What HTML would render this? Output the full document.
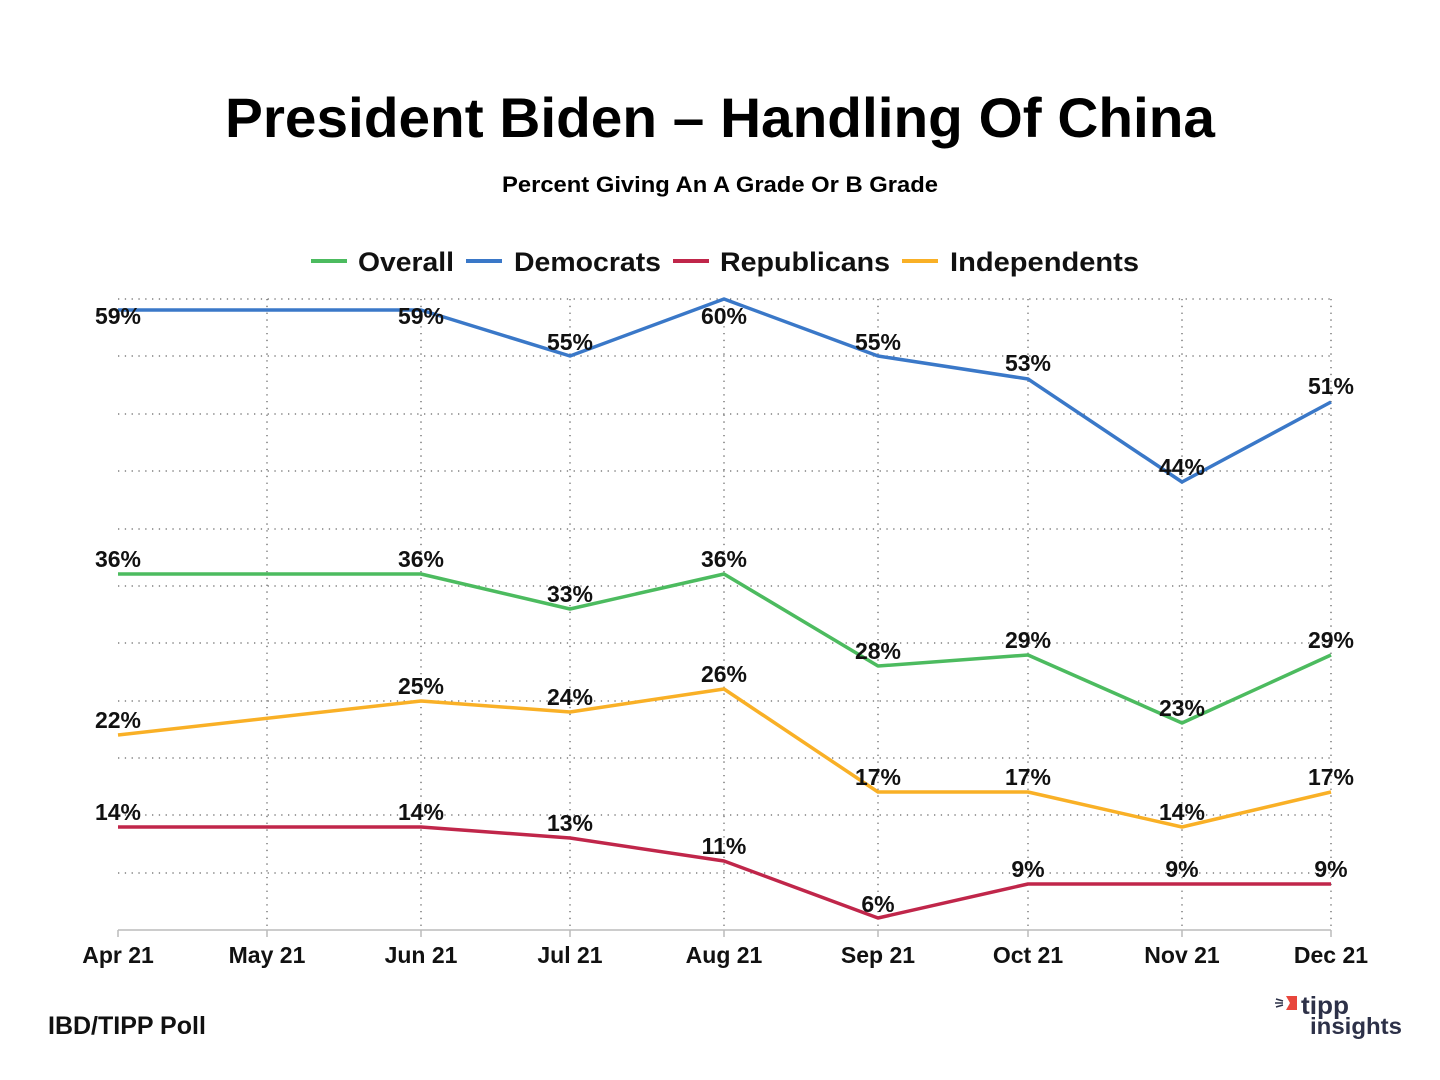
<!DOCTYPE html>
<html><head><meta charset="utf-8"><style>
html,body{margin:0;padding:0;background:#fff;}
svg{display:block;font-family:"Liberation Sans",sans-serif;}
</style></head><body>
<svg width="1440" height="1080" viewBox="0 0 1440 1080">
<rect width="1440" height="1080" fill="#fff"/>
<text x="720" y="137" text-anchor="middle" font-size="56" font-weight="bold" textLength="990" lengthAdjust="spacingAndGlyphs">President Biden – Handling Of China</text>
<text x="720" y="192" text-anchor="middle" font-size="22" font-weight="bold" textLength="436" lengthAdjust="spacingAndGlyphs">Percent Giving An A Grade Or B Grade</text>
<g font-size="27" font-weight="bold" fill="#111">
<line x1="311" y1="261" x2="347" y2="261" stroke="#4cbb5f" stroke-width="4"/>
<text x="358" y="271" textLength="96" lengthAdjust="spacingAndGlyphs">Overall</text>
<line x1="466" y1="261" x2="502" y2="261" stroke="#3a78c8" stroke-width="4"/>
<text x="514" y="271" textLength="147" lengthAdjust="spacingAndGlyphs">Democrats</text>
<line x1="673" y1="261" x2="709" y2="261" stroke="#c0264a" stroke-width="4"/>
<text x="720" y="271" textLength="170" lengthAdjust="spacingAndGlyphs">Republicans</text>
<line x1="902" y1="261" x2="938" y2="261" stroke="#f9b026" stroke-width="4"/>
<text x="950" y="271" textLength="189" lengthAdjust="spacingAndGlyphs">Independents</text>
</g>
<g stroke="#666" stroke-width="1.3" stroke-dasharray="1.3 5.5">
<line x1="118" y1="299" x2="1331" y2="299"/><line x1="118" y1="356" x2="1331" y2="356"/>
<line x1="118" y1="414" x2="1331" y2="414"/><line x1="118" y1="471" x2="1331" y2="471"/>
<line x1="118" y1="529" x2="1331" y2="529"/><line x1="118" y1="586" x2="1331" y2="586"/>
<line x1="118" y1="643" x2="1331" y2="643"/><line x1="118" y1="701" x2="1331" y2="701"/>
<line x1="118" y1="758" x2="1331" y2="758"/><line x1="118" y1="815" x2="1331" y2="815"/>
<line x1="118" y1="873" x2="1331" y2="873"/>
<line x1="267" y1="299" x2="267" y2="930"/><line x1="421" y1="299" x2="421" y2="930"/>
<line x1="570" y1="299" x2="570" y2="930"/><line x1="724" y1="299" x2="724" y2="930"/>
<line x1="878" y1="299" x2="878" y2="930"/><line x1="1028" y1="299" x2="1028" y2="930"/>
<line x1="1182" y1="299" x2="1182" y2="930"/><line x1="1331" y1="299" x2="1331" y2="930"/>
</g>
<line x1="118" y1="930" x2="1331" y2="930" stroke="#bbb" stroke-width="1.5"/>
<g stroke="#bbb" stroke-width="1.5">
<line x1="118" y1="930" x2="118" y2="937"/><line x1="267" y1="930" x2="267" y2="937"/><line x1="421" y1="930" x2="421" y2="937"/><line x1="570" y1="930" x2="570" y2="937"/><line x1="724" y1="930" x2="724" y2="937"/><line x1="878" y1="930" x2="878" y2="937"/><line x1="1028" y1="930" x2="1028" y2="937"/><line x1="1182" y1="930" x2="1182" y2="937"/><line x1="1331" y1="930" x2="1331" y2="937"/>
</g>
<g fill="none" stroke-width="3.5" stroke-linejoin="round">
<polyline stroke="#3a78c8" points="118,310 421,310 570,356 724,299 878,356 1028,379 1182,482 1331,402"/>
<polyline stroke="#4cbb5f" points="118,574 421,574 570,609 724,574 878,666 1028,655 1182,723 1331,655"/>
<polyline stroke="#f9b026" points="118,735 421,701 570,712 724,689 878,792 1028,792 1182,827 1331,792"/>
<polyline stroke="#c0264a" points="118,827 421,827 570,838 724,861 878,918 1028,884 1182,884 1331,884"/>
</g>
<g font-size="23" font-weight="bold" text-anchor="middle" fill="#111">
<text x="118" y="324">59%</text><text x="421" y="324">59%</text><text x="570" y="350">55%</text><text x="724" y="324">60%</text><text x="878" y="350">55%</text><text x="1028" y="371">53%</text><text x="1182" y="475">44%</text><text x="1331" y="394">51%</text>
<text x="118" y="567">36%</text><text x="421" y="567">36%</text><text x="570" y="602">33%</text><text x="724" y="567">36%</text><text x="878" y="659">28%</text><text x="1028" y="648">29%</text><text x="1182" y="716">23%</text><text x="1331" y="648">29%</text>
<text x="118" y="728">22%</text><text x="421" y="694">25%</text><text x="570" y="705">24%</text><text x="724" y="682">26%</text><text x="878" y="785">17%</text><text x="1028" y="785">17%</text><text x="1182" y="820">14%</text><text x="1331" y="785">17%</text>
<text x="118" y="820">14%</text><text x="421" y="820">14%</text><text x="570" y="831">13%</text><text x="724" y="854">11%</text><text x="878" y="912">6%</text><text x="1028" y="877">9%</text><text x="1182" y="877">9%</text><text x="1331" y="877">9%</text>
</g>
<g font-size="23" font-weight="bold" text-anchor="middle" fill="#111">
<text x="118" y="963">Apr 21</text><text x="267" y="963">May 21</text><text x="421" y="963">Jun 21</text><text x="570" y="963">Jul 21</text><text x="724" y="963">Aug 21</text><text x="878" y="963">Sep 21</text><text x="1028" y="963">Oct 21</text><text x="1182" y="963">Nov 21</text><text x="1331" y="963">Dec 21</text>
</g>
<text x="48" y="1034" font-size="25" font-weight="bold" fill="#111">IBD/TIPP Poll</text>
<g>
<path d="M1286 996 h11 v14 h-11 l4 -7 z" fill="#e8463c"/>
<path d="M1276 999 l7 2 M1275 1003 h8 M1276 1007 l7 -2" stroke="#2d3148" stroke-width="1.5"/>
<text x="1301" y="1014" font-size="25" font-weight="bold" fill="#2d3148" textLength="48" lengthAdjust="spacingAndGlyphs">tipp</text>
<text x="1310" y="1034" font-size="23" font-weight="bold" fill="#2d3148" textLength="92" lengthAdjust="spacingAndGlyphs">insights</text>
</g>
</svg>
</body></html>
